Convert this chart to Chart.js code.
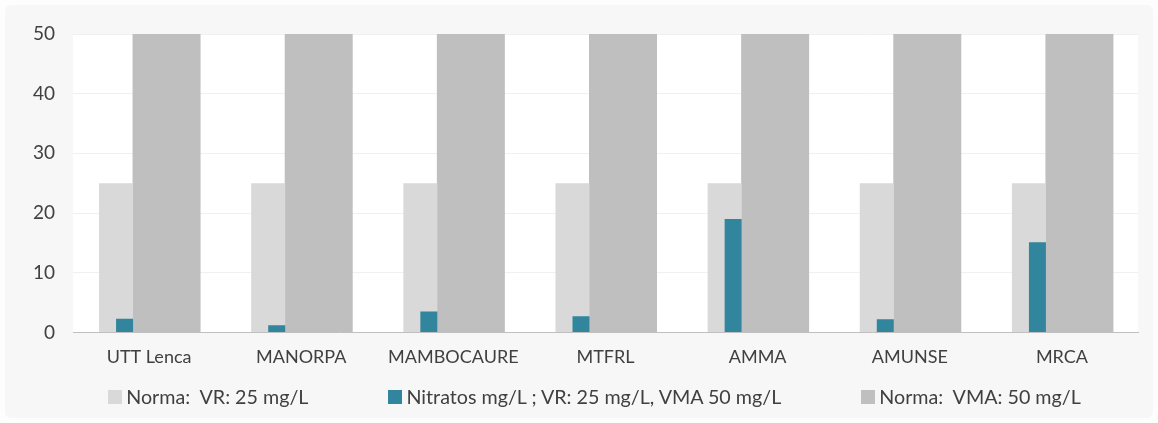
<!DOCTYPE html>
<html>
<head>
<meta charset="utf-8">
<script src="https://cdn.jsdelivr.net/npm/chart.js@4"></script>
<style>
  html, body { margin: 0; padding: 0; background: #fdfdfd; }
  #wrap { position: relative; width: 1158px; height: 423px; }
  #panel { position: absolute; left: 5px; top: 5px; width: 1148px; height: 413px; background: #f7f7f7; border-radius: 6px; }
  #chartBox { position: absolute; left: 0; top: 0; width: 1158px; height: 423px; }
  #legend { position: absolute; left: 31px; right: 0; top: 385px; display: flex; justify-content: center; gap: 80px;
            font-family: Lato, "Open Sans", sans-serif; font-size: 19.7px; color: #404040; white-space: pre; }
  #legend .item { display: flex; align-items: center; }
  #legend .box { width: 14px; height: 14px; margin-right: 4px; }
</style>
</head>
<body>
<div id="wrap">
  <div id="panel"></div>
  <div id="chartBox"><canvas id="nitratosChart"></canvas></div>
  <div id="legend"></div>
</div>
<script>
// data
const categories = ['UTT Lenca', 'MANORPA', 'MAMBOCAURE', 'MTFRL', 'AMMA', 'AMUNSE', 'MRCA'];
const normaVR = [25, 25, 25, 25, 25, 25, 25];
const nitratos = [2.3, 1.2, 3.5, 2.7, 19.0, 2.2, 15.1];
const normaVMA = [50, 50, 50, 50, 50, 50, 50];
const yTicks = [0, 10, 20, 30, 40, 50];

const seriesNames = ['Norma:  VR: 25 mg/L', 'Nitratos mg/L ; VR: 25 mg/L, VMA 50 mg/L', 'Norma:  VMA: 50 mg/L'];
const seriesColors = ['#d9d9d9', '#31859c', '#bfbfbf'];

// white plot area like the original
const plotBackground = {
  id: 'plotBackground',
  beforeDraw(chart) {
    const a = chart.chartArea;
    chart.ctx.save();
    chart.ctx.fillStyle = '#ffffff';
    chart.ctx.fillRect(a.left, a.top, a.right - a.left, a.bottom - a.top);
    chart.ctx.restore();
  }
};

document.addEventListener('DOMContentLoaded', function() {
  const ctx = document.getElementById('nitratosChart');
  new Chart(ctx, {
    type: 'bar',
    data: {
      labels: categories,
      datasets: [
        {
          label: seriesNames[1],
          data: nitratos,
          backgroundColor: seriesColors[1],
          stack: 'a',
          order: 0,
          categoryPercentage: 0.644,
          barPercentage: 0.347
        },
        {
          label: seriesNames[0],
          data: normaVR,
          backgroundColor: seriesColors[0],
          stack: 'a',
          order: 1,
          categoryPercentage: 0.868,
          barPercentage: 0.515
        },
        {
          label: seriesNames[2],
          data: normaVMA,
          backgroundColor: seriesColors[2],
          stack: 'b',
          order: 2,
          categoryPercentage: 0.46,
          barPercentage: 1.943
        }
      ]
    },
    options: {
      responsive: true,
      maintainAspectRatio: false,
      animation: false,
      layout: { padding: { top: 34, left: 20, right: 20, bottom: 49 } },
      scales: {
        x: {
          grid: { display: false },
          border: { display: true, color: '#bfbfbf', width: 1 },
          ticks: {
            color: '#404040',
            padding: 6,
            maxRotation: 0,
            font: { family: 'Lato, "Open Sans", sans-serif', size: 18 }
          }
        },
        y: {
          stacked: false,
          min: 0,
          max: 50,
          afterFit: function(scale) { scale.width = 53; },
          afterBuildTicks: function(scale) { scale.ticks = yTicks.map(v => ({ value: v })); },
          grid: { color: '#f0f0f0', drawTicks: false },
          border: { display: false },
          ticks: {
            color: '#404040',
            padding: 18,
            font: { family: 'Lato, "Open Sans", sans-serif', size: 19 }
          }
        }
      },
      plugins: {
        legend: { display: false }, // custom legend in HTML below
        tooltip: { enabled: false }
      }
    },
    plugins: [plotBackground]
  });

  const legend = document.getElementById('legend');
  [0, 1, 2].forEach(function(i) {
    const item = document.createElement('div');
    item.className = 'item';
    const box = document.createElement('span');
    box.className = 'box';
    box.style.background = seriesColors[i];
    const text = document.createElement('span');
    text.textContent = seriesNames[i];
    item.appendChild(box);
    item.appendChild(text);
    legend.appendChild(item);
  });
});
</script>
</body>
</html>
